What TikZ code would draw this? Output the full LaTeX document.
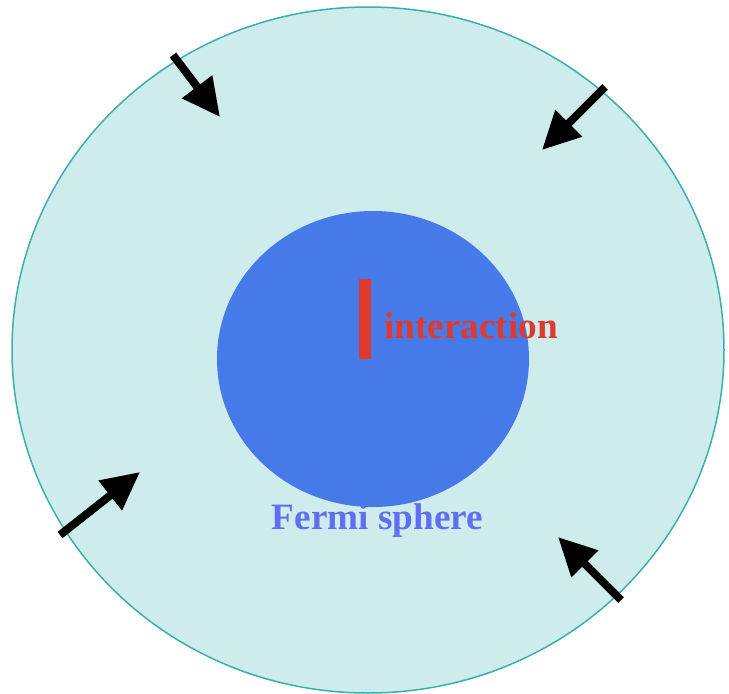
\documentclass[tikz,border=0pt]{standalone}
\usepackage{fontspec}
\setmainfont{Liberation Serif}
\usetikzlibrary{arrows.meta}
\definecolor{outerfill}{HTML}{CFECEC}
\definecolor{outerline}{HTML}{3AAFAF}
\definecolor{innerfill}{HTML}{467AE8}
\definecolor{redbar}{HTML}{E0392E}
\definecolor{fermiblue}{HTML}{5E70F0}
\tikzset{
  pusharrow/.style={line width=8pt, -{Triangle[length=38pt,width=36pt]}, black},
  labeltext/.style={font=\bfseries\fontsize{37.2}{40}\selectfont, inner sep=0pt}
}
\begin{document}
\begin{tikzpicture}[x=1pt,y=-1pt]
\useasboundingbox (0,0) rectangle (729,694);
\fill[outerfill, draw=outerline, line width=1.5pt] (368,350) ellipse [x radius=356, y radius=343];
\fill[innerfill] (373,359) ellipse [x radius=156, y radius=148];
\fill[redbar] (359,279) rectangle (371,359);
\node[labeltext, text=redbar, anchor=base west] (inter) at (384,338) {interaction};
\node[labeltext, text=fermiblue, anchor=base] (fermi) at (377.5,529) {Fermi sphere};
\coordinate (t1) at (173,55); \coordinate (h1) at (220,117);
\coordinate (t2) at (605,87); \coordinate (h2) at (542,150);
\coordinate (t3) at (60,535); \coordinate (h3) at (140,472);
\coordinate (t4) at (621,600); \coordinate (h4) at (558,537);
\draw[pusharrow] (t1) -- (h1);
\draw[pusharrow] (t2) -- (h2);
\draw[pusharrow] (t3) -- (h3);
\draw[pusharrow] (t4) -- (h4);
\end{tikzpicture}
\end{document}
